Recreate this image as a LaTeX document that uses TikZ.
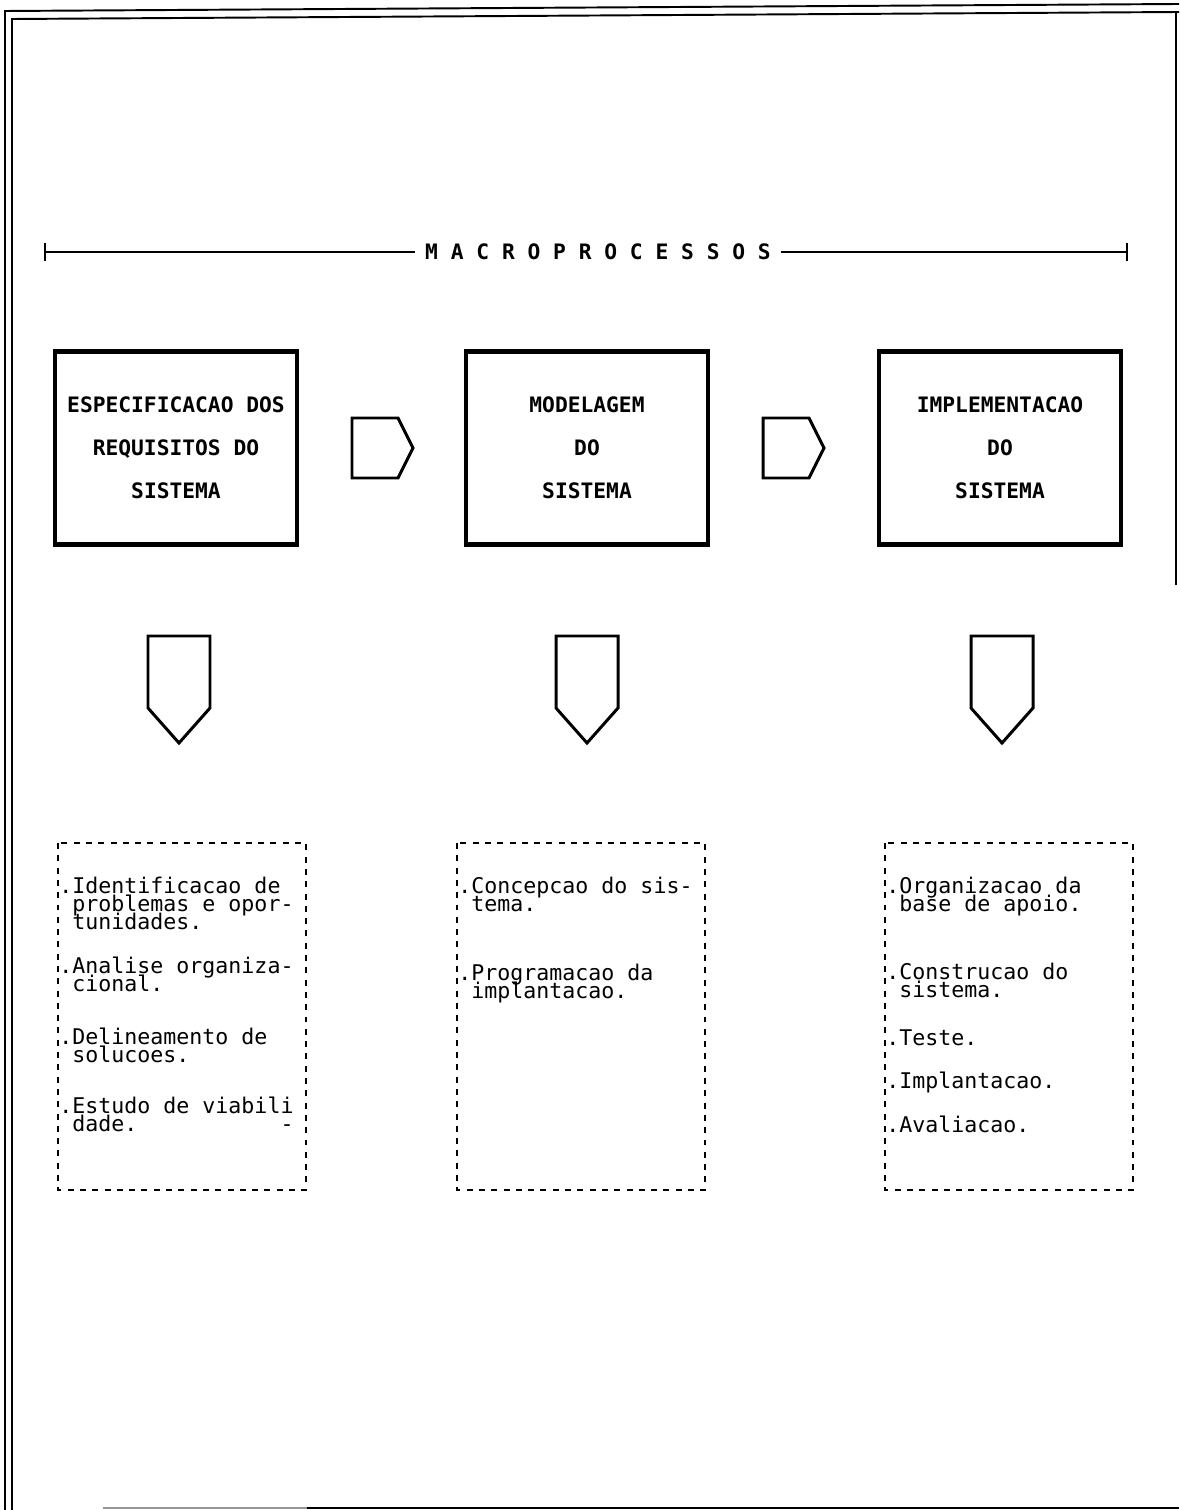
\documentclass[tikz,border=0pt]{standalone}
\usepackage{fontspec}
\setmonofont{DejaVu Sans Mono}
\usepackage{tikz}
\usetikzlibrary{calc, positioning}
\definecolor{ink}{RGB}{0,0,0}
\definecolor{fadegrey}{RGB}{150,150,150}
\newcommand\itemfont{\fontsize{12.3}{10.2}\selectfont\ttfamily\setlength{\lineskiplimit}{-20pt}\setlength{\lineskip}{0pt}}

\tikzset{
  frame/.style={ink, line width=1.1pt},
  phasebox/.style={draw=ink, line width=2.3pt, minimum width=4.84cm, minimum height=3.86cm,
                   align=center, font=\fontsize{12.1}{24.4}\selectfont\ttfamily\bfseries},
  arrowshape/.style={ink, line width=1.7pt, line join=miter},
  listbox/.style={ink, line width=1.2pt, dash pattern=on 3.4pt off 3.6pt},
  itemtext/.style={anchor=base west, inner sep=0pt, align=left, font=\itemfont}
}

\begin{document}
\begin{tikzpicture}[x=0.02cm, y=-0.02cm]
  \useasboundingbox (0,0) rectangle (1179,1510);

  % page frame
  \draw[frame] (5,1510) -- (5,11) -- (1179,4);
  \draw[frame] (12,1510) -- (12,19) -- (1179,12);
  \draw[frame] (1176,12) -- (1176,585);
  \draw[fadegrey, line width=1.1pt] (103,1508) -- (307,1508);
  \draw[frame] (307,1508) -- (1179,1508);

  % title rule
  \node[inner sep=0.2cm, font=\fontsize{12.1}{14}\selectfont\ttfamily\bfseries] (title) at (598,252)
    {M A C R O P R O C E S S O S};
  \coordinate (ruleL) at (45,252);
  \coordinate (ruleR) at (1127,252);
  \draw[ink, line width=1.4pt] (ruleL) -- (title.west);
  \draw[ink, line width=1.4pt] (title.east) -- (ruleR);
  \draw[ink, line width=1.4pt] ($(ruleL)+(0,-9)$) -- ($(ruleL)+(0,9)$);
  \draw[ink, line width=1.4pt] ($(ruleR)+(0,-9)$) -- ($(ruleR)+(0,9)$);

  % macroprocess boxes
  \node[phasebox] (spec) at (176,448) {ESPECIFICACAO DOS\\REQUISITOS DO\\SISTEMA};
  \node[phasebox] (model) at (587,448) {MODELAGEM\\DO\\SISTEMA};
  \node[phasebox] (impl) at (1000,448) {IMPLEMENTACAO\\DO\\SISTEMA};

  % arrows between boxes
  \foreach \x in {352,763} {
    \draw[arrowshape] (\x,418) -- (\x+46,418) -- (\x+61,448) -- (\x+46,478) -- (\x,478) -- cycle;
  }
  % arrows down to the lists
  \foreach \x in {179,587,1002} {
    \draw[arrowshape] (\x-31,636) -- (\x+31,636) -- (\x+31,708) -- (\x,743) -- (\x-31,708) -- cycle;
  }

  % activity lists (base = last line)
  \foreach \x in {58,457,885} {
    \draw[listbox] (\x,843) rectangle (\x+248,1190);
  }

  \node[itemtext] (specA) at (59,929) {.Identificacao de\\\phantom{.}problemas e opor-\\\phantom{.}tunidades.};
  \node[itemtext] (specB) at (59,991) {.Analise organiza-\\\phantom{.}cional.};
  \node[itemtext] (specC) at (59,1062) {.Delineamento de\\\phantom{.}solucoes.};
  \node[itemtext] (specD) at (59,1131) {.Estudo de viabili\\\phantom{.}dade.\phantom{xxxxxxxxxxx}-};

  \node[itemtext] (modelA) at (458,911) {.Concepcao do sis-\\\phantom{.}tema.};
  \node[itemtext] (modelB) at (458,998) {.Programacao da\\\phantom{.}implantacao.};

  \node[itemtext] (implA) at (886,911) {.Organizacao da\\\phantom{.}base de apoio.};
  \node[itemtext] (implB) at (886,997) {.Construcao do\\\phantom{.}sistema.};
  \node[itemtext] (implC) at (886,1045) {.Teste.};
  \node[itemtext] (implD) at (886,1088) {.Implantacao.};
  \node[itemtext] (implE) at (886,1132) {.Avaliacao.};
\end{tikzpicture}
\end{document}
